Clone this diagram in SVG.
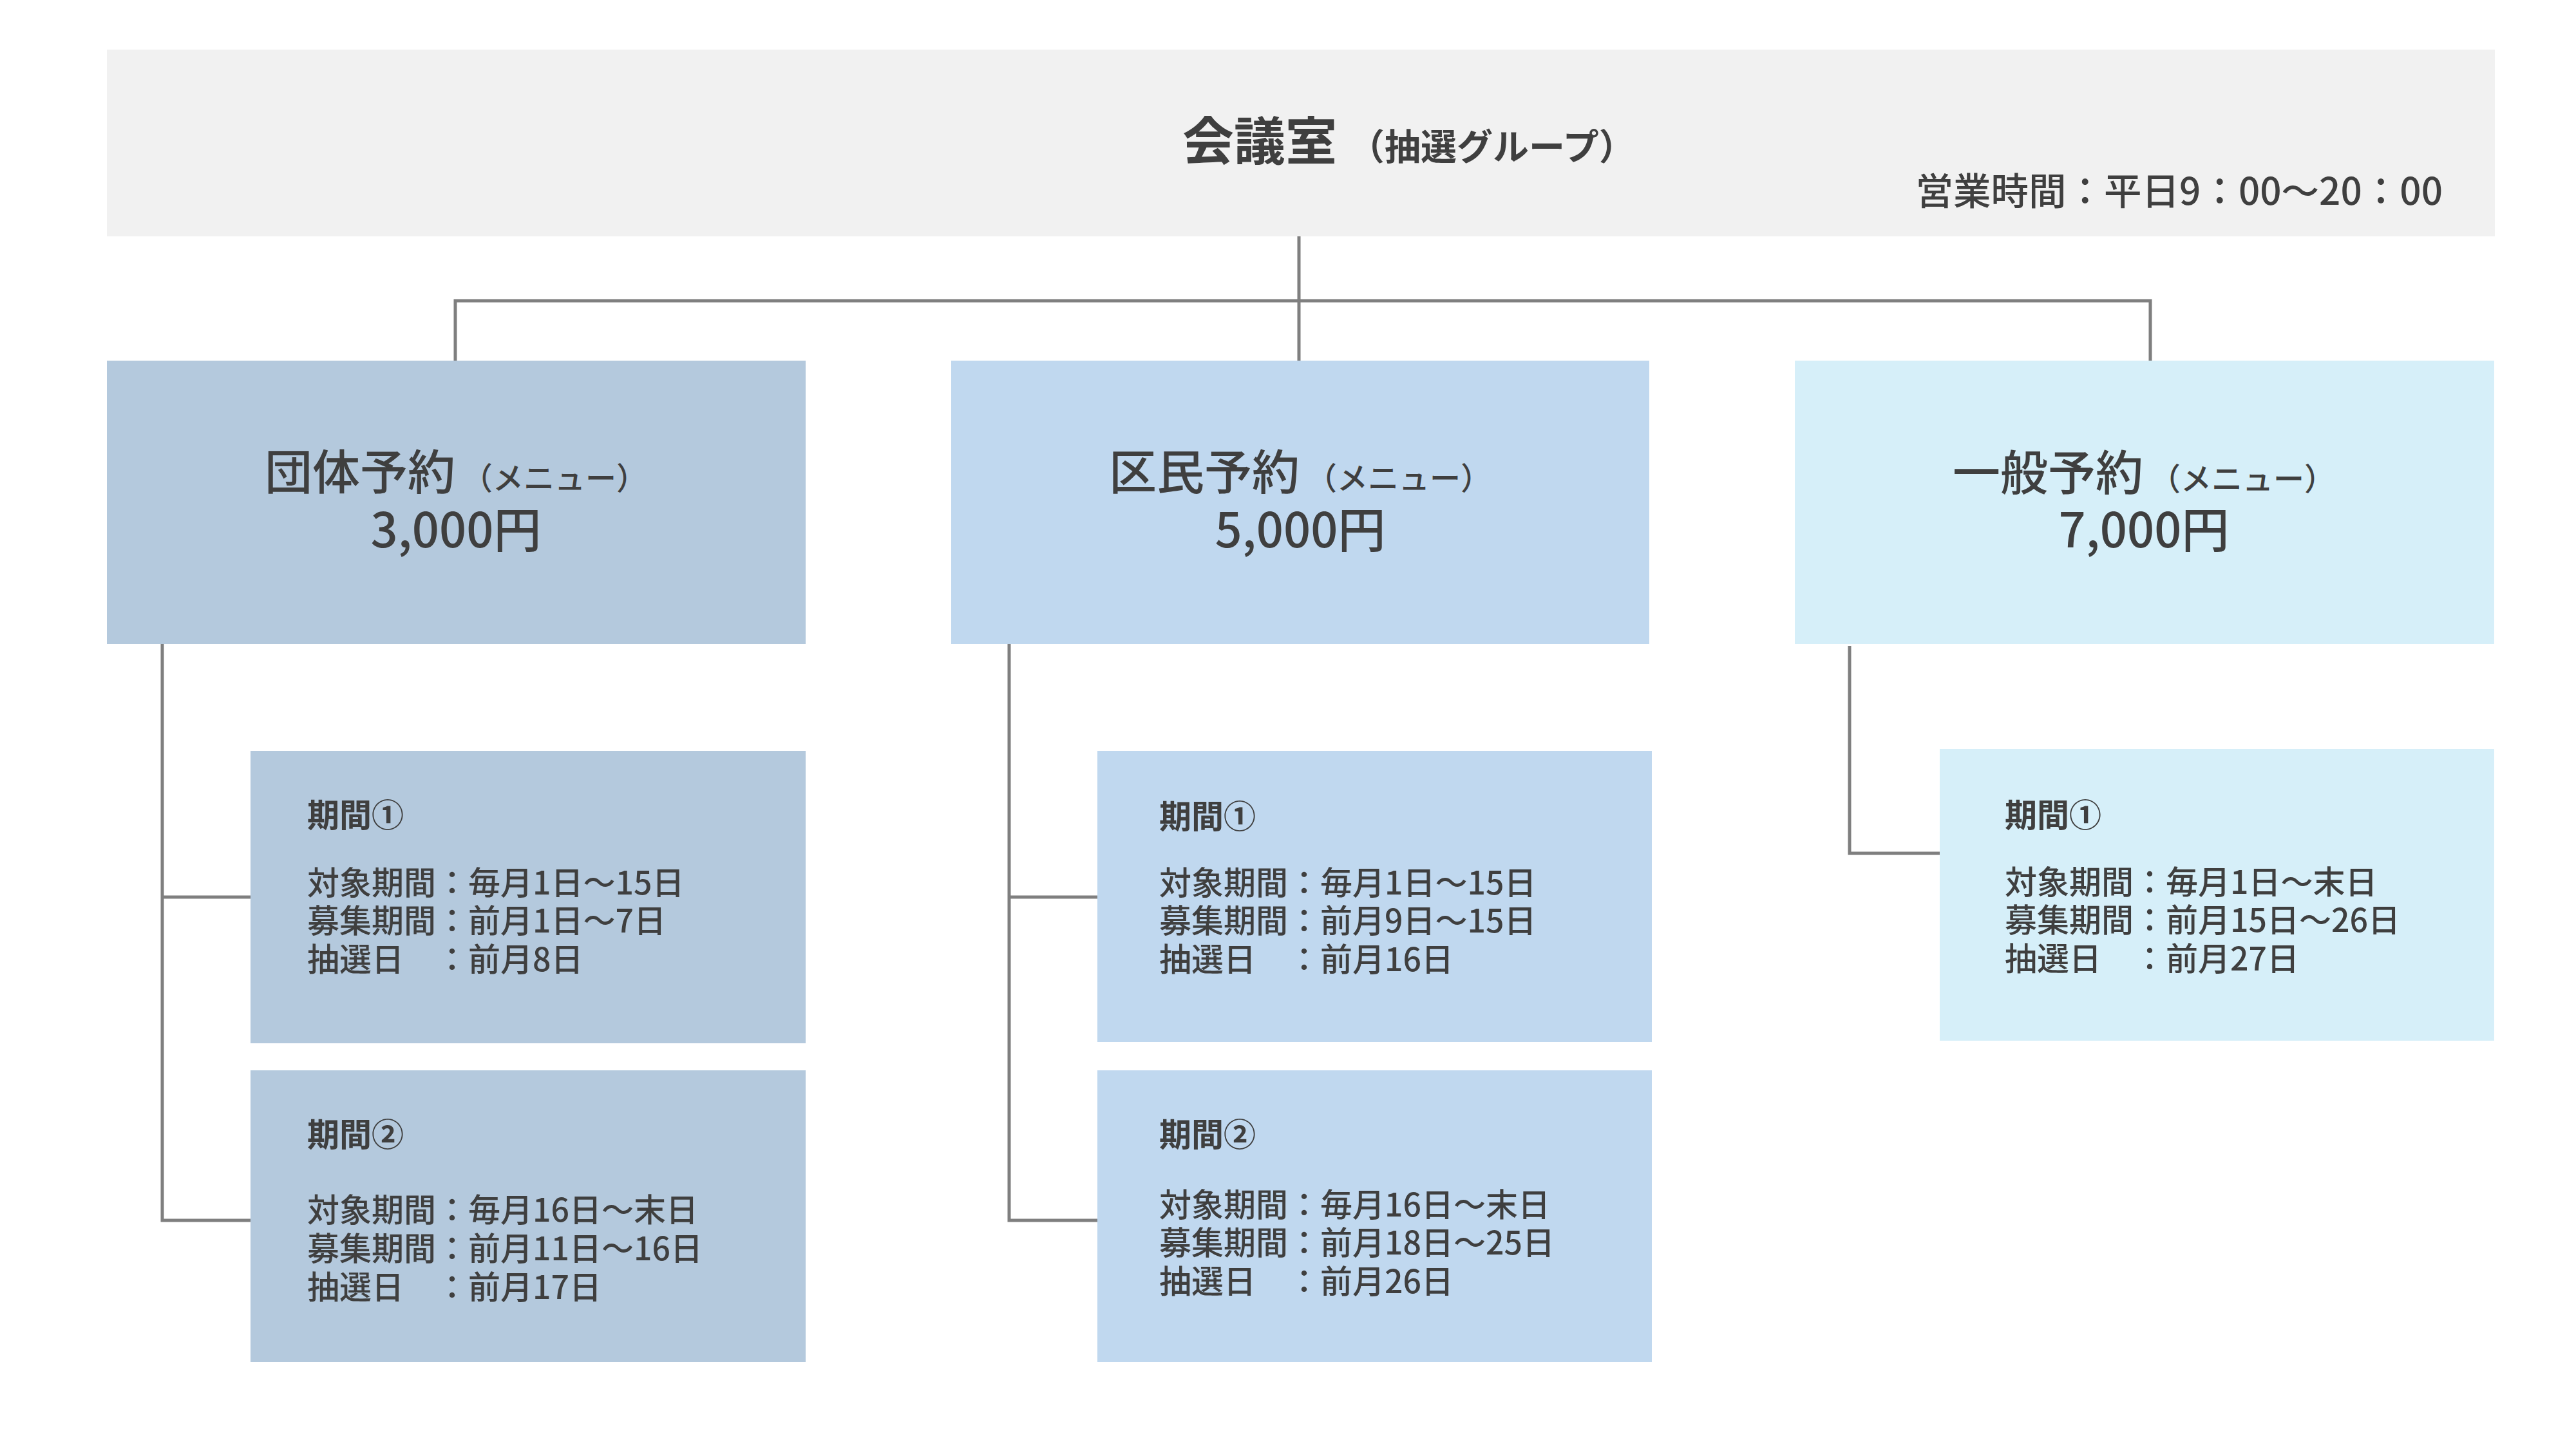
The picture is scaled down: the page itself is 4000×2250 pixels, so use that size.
<svg xmlns="http://www.w3.org/2000/svg" width="4000" height="2250" viewBox="0 0 4000 2250">
<style>
text{font-family:"Noto Sans CJK JP","Noto Sans CJK SC",sans-serif;fill:#3f3f3f}
.conn{fill:none;stroke:#7f7f7f;stroke-width:5;stroke-linejoin:miter;stroke-linecap:butt}
.h1{font-size:80px;font-weight:700}
.h1s{font-size:56px;font-weight:700}
.hours{font-size:58.5px;font-weight:500}
.t2{font-size:74px;font-weight:500}
.t2s{font-size:48px;font-weight:500}
.pt{font-size:50px;font-weight:700}
.bd{font-size:50px;font-weight:500}
.cA{fill:#b4c9dd}
.cB{fill:#c0d8ef}
.cC{fill:#d6eff9}
</style>
<rect width="4000" height="2250" fill="#ffffff"/>
<g id="connectors">
<path class="conn" d="M2017,365 V467 M707,560 V467 H3339 V560 M2017,467 V560"/>
<path class="conn" d="M252,1000 V1895 H389 M252,1393 H389"/>
<path class="conn" d="M1567,1000 V1895 H1704 M1567,1393 H1704"/>
<path class="conn" d="M2872,1003 V1325 H3012"/>
</g>
<g id="root">
<rect x="166" y="77" width="3708" height="290" fill="#f1f1f1"/>
<text x="1836" y="248"><tspan class="h1">会議室</tspan><tspan class="h1s" dx="18">（抽選グループ）</tspan></text>
<text class="hours" x="3793" y="318" text-anchor="end">営業時間：平日9：00〜20：00</text>
</g>
<g id="dantai">
<rect class="cA" x="166" y="560" width="1085" height="440"/>
<text x="708" y="760" text-anchor="middle"><tspan class="t2">団体予約</tspan><tspan class="t2s" dx="10">（メニュー）</tspan></text>
<text class="t2" x="708" y="850" text-anchor="middle">3,000円</text>
</g>
<g id="kumin">
<rect class="cB" x="1477" y="560" width="1084" height="440"/>
<text x="2019" y="760" text-anchor="middle"><tspan class="t2">区民予約</tspan><tspan class="t2s" dx="10">（メニュー）</tspan></text>
<text class="t2" x="2019" y="850" text-anchor="middle">5,000円</text>
</g>
<g id="ippan">
<rect class="cC" x="2787" y="560" width="1086" height="440"/>
<text x="3329" y="761" text-anchor="middle"><tspan class="t2">一般予約</tspan><tspan class="t2s" dx="10">（メニュー）</tspan></text>
<text class="t2" x="3329" y="850" text-anchor="middle">7,000円</text>
</g>
<g id="dantai-1">
<rect class="cA" x="389" y="1166" width="862" height="454"/>
<text class="pt" x="477" y="1284">期間①</text>
<text class="bd" x="477" y="1389">対象期間：毎月1日〜15日</text>
<text class="bd" x="477" y="1448">募集期間：前月1日〜7日</text>
<text class="bd" x="477" y="1508">抽選日　：前月8日</text>
</g>
<g id="dantai-2">
<rect class="cA" x="389" y="1662" width="862" height="453"/>
<text class="pt" x="477" y="1780">期間②</text>
<text class="bd" x="477" y="1897">対象期間：毎月16日〜末日</text>
<text class="bd" x="477" y="1957">募集期間：前月11日〜16日</text>
<text class="bd" x="477" y="2017">抽選日　：前月17日</text>
</g>
<g id="kumin-1">
<rect class="cB" x="1704" y="1166" width="861" height="452"/>
<text class="pt" x="1800" y="1286">期間①</text>
<text class="bd" x="1800" y="1389">対象期間：毎月1日〜15日</text>
<text class="bd" x="1800" y="1448">募集期間：前月9日〜15日</text>
<text class="bd" x="1800" y="1508">抽選日　：前月16日</text>
</g>
<g id="kumin-2">
<rect class="cB" x="1704" y="1662" width="861" height="453"/>
<text class="pt" x="1800" y="1780">期間②</text>
<text class="bd" x="1800" y="1889">対象期間：毎月16日〜末日</text>
<text class="bd" x="1800" y="1948">募集期間：前月18日〜25日</text>
<text class="bd" x="1800" y="2008">抽選日　：前月26日</text>
</g>
<g id="ippan-1">
<rect class="cC" x="3012" y="1163" width="861" height="453"/>
<text class="pt" x="3113" y="1284">期間①</text>
<text class="bd" x="3113" y="1388">対象期間：毎月1日〜末日</text>
<text class="bd" x="3113" y="1447">募集期間：前月15日〜26日</text>
<text class="bd" x="3113" y="1507">抽選日　：前月27日</text>
</g>
</svg>
